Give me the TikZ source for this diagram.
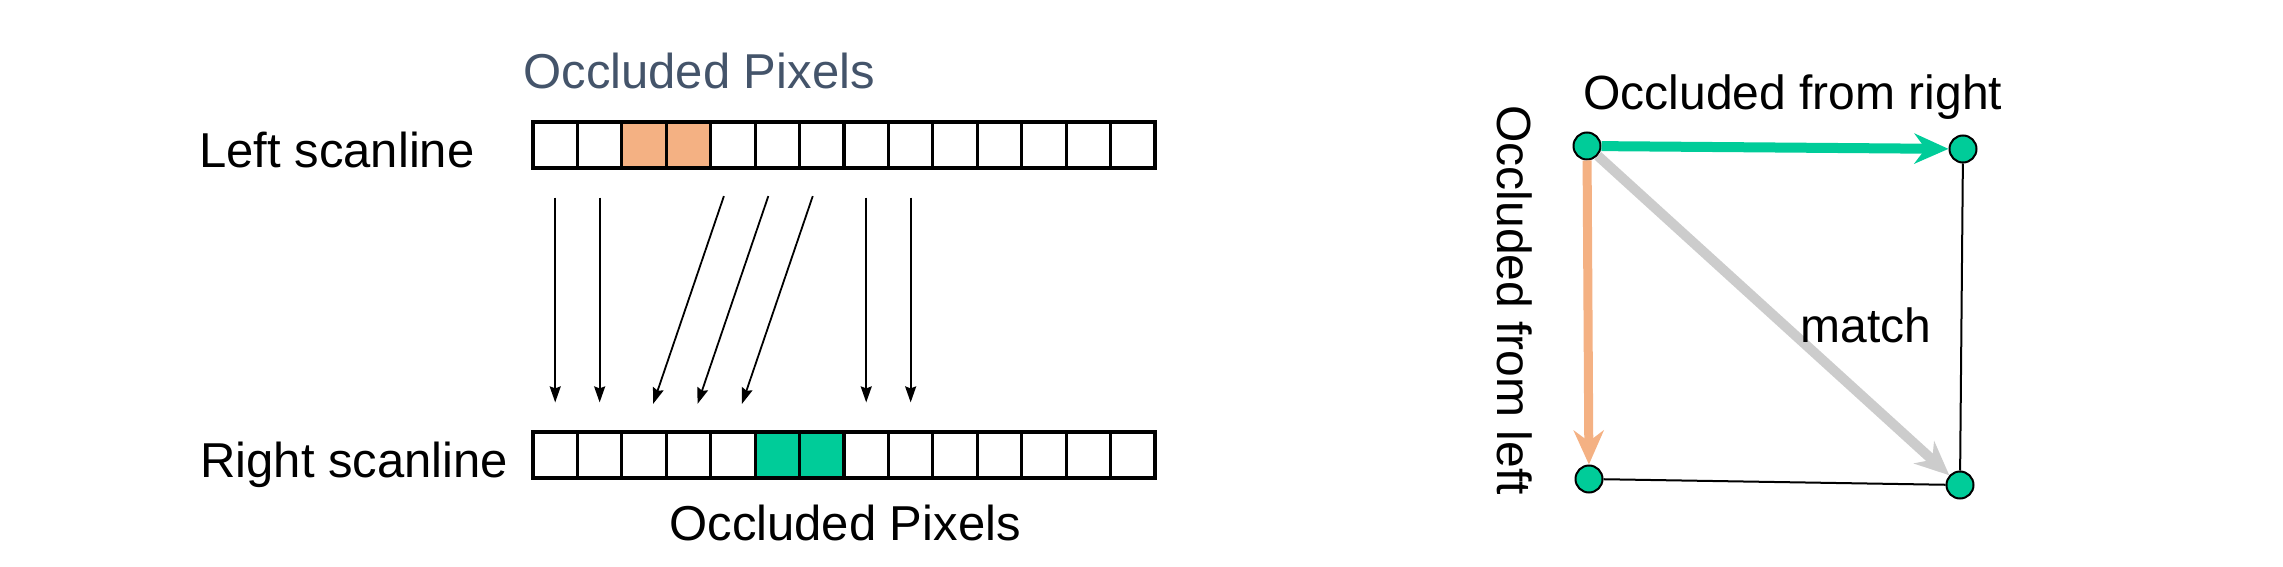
\documentclass[tikz,border=0pt]{standalone}
\usepackage{fontspec}
\setmainfont{Liberation Sans}
\usetikzlibrary{arrows.meta}
\definecolor{occorange}{HTML}{F4B183}
\definecolor{occgreen}{HTML}{00CC99}
\definecolor{occslate}{HTML}{44546A}
\definecolor{matchgray}{HTML}{CCCCCC}

\begin{document}
\begin{tikzpicture}[x=0.5pt,y=-0.5pt,
    cell/.style={draw,line width=1.6pt,inner sep=0pt,minimum width=22.2pt,minimum height=23pt},
    lbl/.style={anchor=base west,inner sep=0pt,font=\fontsize{24.5pt}{29pt}\selectfont},
    slbl/.style={anchor=base west,inner sep=0pt,font=\fontsize{24pt}{29pt}\selectfont},
    corr/.style={line width=0.9pt,-{Stealth[length=8pt,width=5.5pt,inset=1pt]},shorten <=14pt,shorten >=14pt},
    dot/.style={circle,draw,line width=1pt,fill=occgreen,inner sep=0pt,minimum size=13.5pt},
    move/.style={line width=5pt,-{Stealth[length=17pt,width=15pt,inset=5.5pt]}}]
    \useasboundingbox(0,0)rectangle(2283,567);
    % scanlines
    \foreach \i in {1,2,5,6,7,8,9,10,11,12,13,14}\node[cell](L\i)at({533+44.43*(\i-0.5)},145){};
    \foreach \i in {3,4}\node[cell,fill=occorange](L\i)at({533+44.43*(\i-0.5)},145){};
    \foreach \i in {1,2,3,4,5,8,9,10,11,12,13,14}\node[cell](R\i)at({533+44.43*(\i-0.5)},455){};
    \foreach \i in {6,7}\node[cell,fill=occgreen](R\i)at({533+44.43*(\i-0.5)},455){};
    \foreach \a/\b in {1/1,2/2,5/3,6/4,7/5,8/8,9/9}\draw[corr](L\a.south)--(R\b.north);
    \node[lbl,occslate](occtop)at(523,89){Occluded Pixels};
    \node[lbl](lefttxt)at(199,168){Left scanline};
    \node[lbl](righttxt)at(200,477){Right scanline};
    \node[lbl](occbot)at(669,540){Occluded Pixels};
    % match graph
    \node[dot](tl)at(1587,146){};
    \node[dot](tr)at(1963,149){};
    \node[dot](bl)at(1589,479){};
    \node[dot](br)at(1960,485){};
    \draw[line width=1pt](tr)--(br)(bl)--(br);
    \draw[move,matchgray](tl)--(br);
    \draw[move,occgreen](tl)--(tr);
    \draw[move,occorange,line width=4.5pt](tl)--(bl);
    \node[slbl](fromright)at(1583,110){Occluded from right};
    \node[slbl,rotate=-90](fromleft)at(1497,105){Occluded from left};
    \node[slbl](matchtxt)at(1800,342){match};
\end{tikzpicture}
\end{document}
